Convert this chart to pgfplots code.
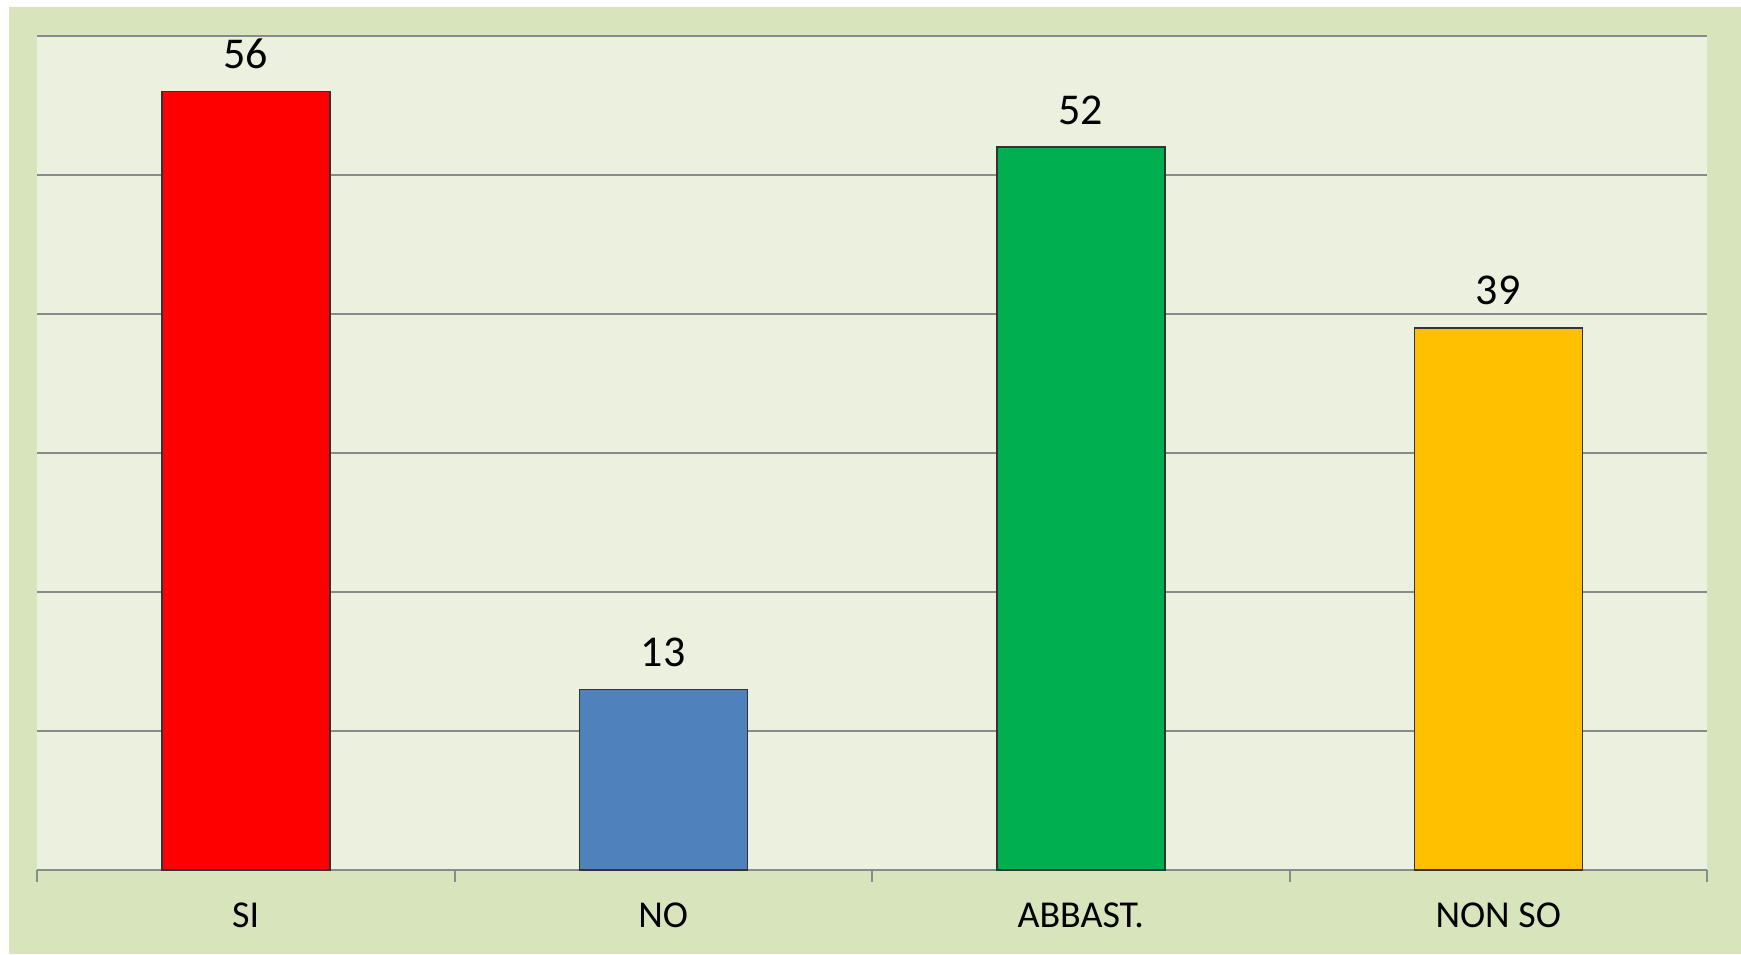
\documentclass[border=0pt]{standalone}
\usepackage{fontspec}
\setmainfont{Carlito}
\usepackage{pgfplots}
\pgfplotsset{compat=1.18}
\definecolor{outerbg}{HTML}{D8E4BC}
\definecolor{innerbg}{HTML}{EBF1DE}
\definecolor{gridgray}{HTML}{8A8A8A}
\definecolor{barred}{HTML}{FF0000}
\definecolor{barblue}{HTML}{4F81BD}
\definecolor{bargreen}{HTML}{00B050}
\definecolor{baryellow}{HTML}{FFC000}
\definecolor{edge}{HTML}{333333}
\begin{document}
\begin{tikzpicture}
\useasboundingbox (0,0) rectangle (870.5pt,-477pt);
\fill[white] (0,0) rectangle (870.5pt,-477pt);
\fill[outerbg] (4.5pt,-3.5pt) rectangle (870.5pt,-477pt);
\begin{axis}[
  at={(18.5pt,-18pt)}, anchor=north west,
  scale only axis, width=835pt, height=417pt,
  xmin=-0.5, xmax=3.5, ymin=0, ymax=60,
  xtick={0,1,2,3}, xticklabels={SI,NO,ABBAST.,NON SO},
  minor xtick={-0.5,0.5,1.5,2.5,3.5},
  ytick={0,10,...,60}, yticklabels={},
  ymajorgrids, major grid style={gridgray, line width=1pt},
  separate axis lines,
  x axis line style={gridgray, line width=1pt},
  y axis line style={draw=none},
  axis background/.style={fill=innerbg},
  xtick pos=bottom, ytick pos=left,
  tick align=outside,
  major tick length=0pt,
  minor tick length=6pt,
  minor x tick style={gridgray, line width=1pt},
  ytick style={draw=none},
  xticklabel style={font=\fontsize{19}{22}\selectfont, yshift=-13pt},
  /pgf/number format/assume math mode=true,
  nodes near coords,
  every node near coord/.append style={font=\fontsize{22}{26}\selectfont, anchor=south, inner sep=0pt, yshift=11pt, text=black},
  clip=false,
]
\addplot[ybar, bar width=84pt, bar shift=0pt, fill=barred, draw=edge, line width=0.75pt] coordinates {(0,56)};
\addplot[ybar, bar width=84pt, bar shift=0pt, fill=barblue, draw=edge, line width=0.75pt] coordinates {(1,13)};
\addplot[ybar, bar width=84pt, bar shift=0pt, fill=bargreen, draw=edge, line width=0.75pt] coordinates {(2,52)};
\addplot[ybar, bar width=84pt, bar shift=0pt, fill=baryellow, draw=edge, line width=0.75pt] coordinates {(3,39)};
\end{axis}
\end{tikzpicture}
\end{document}
